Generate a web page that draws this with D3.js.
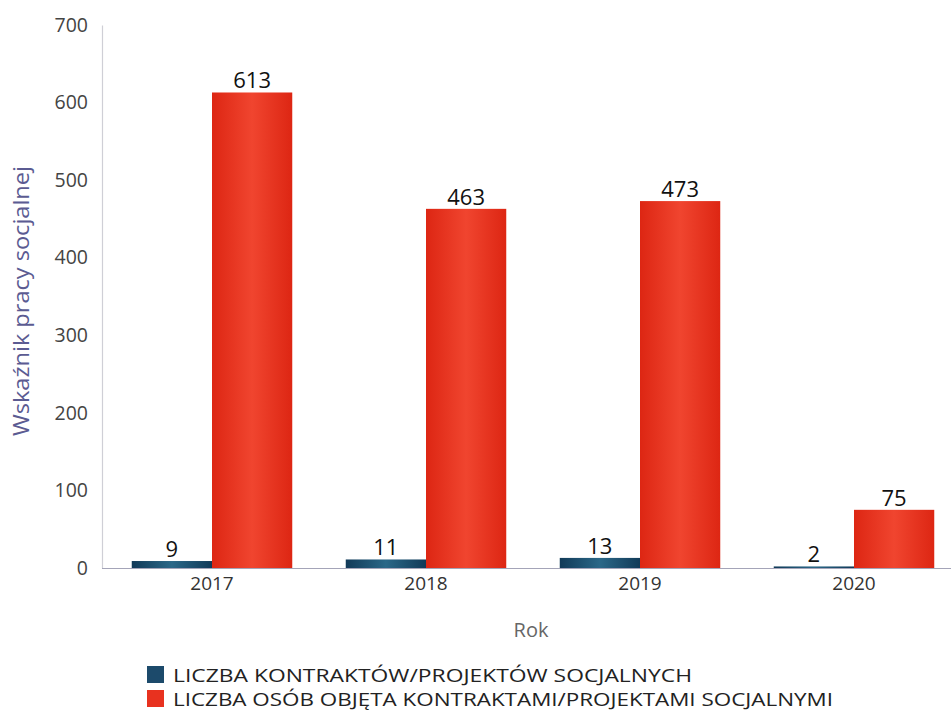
<!DOCTYPE html>
<html><head><meta charset="utf-8">
<script src="https://cdn.jsdelivr.net/npm/d3@7"></script>
<style>body{margin:0;background:#fff;font-family:"Open Sans",sans-serif;}</style>
</head><body>
<svg id="c" width="951" height="713"></svg>
<script>
const categories = ["2017","2018","2019","2020"];
const seriesNames = ["LICZBA KONTRAKTÓW/PROJEKTÓW SOCJALNYCH","LICZBA OSÓB OBJĘTA KONTRAKTAMI/PROJEKTAMI SOCJALNYMI"];
const contracts = [9, 11, 13, 2];
const persons = [613, 463, 473, 75];
const yTicks = [0,100,200,300,400,500,600,700];

(function(){
const svg = d3.select("#c");
const mLeft = 102, mRight = 961, mTop = 25, mBottom = 568;
const x0 = d3.scaleBand().domain(categories).range([mLeft + 3, mRight]).paddingInner(0.25).paddingOuter(0.125);
const x1 = d3.scaleBand().domain([0,1]).range([0, x0.bandwidth()]);
const y = d3.scaleLinear().domain([0,700]).range([mBottom, mTop]);

const defs = svg.append("defs");
function grad(id, edge, mid){
  const g = defs.append("linearGradient").attr("id", id).attr("x1","0%").attr("x2","100%");
  g.append("stop").attr("offset","0%").attr("stop-color", edge);
  g.append("stop").attr("offset","50%").attr("stop-color", mid);
  g.append("stop").attr("offset","100%").attr("stop-color", edge);
}
grad("gBlue", "#113a58", "#2b6888");
grad("gRed", "#dd2613", "#f0452f");
const fills = ["url(#gBlue)", "url(#gRed)"];
const legendColors = ["#1c4a6b", "#e8321f"];

const ya = svg.append("g").attr("transform", `translate(${mLeft},0)`)
  .call(d3.axisLeft(y).tickValues(yTicks).tickSize(0).tickPadding(14));
ya.select(".domain").attr("stroke", "#cfcfd6").attr("stroke-width", 1.2);
ya.selectAll("text").attr("font-size", 19.5).attr("fill", "#444").attr("font-family", "Open Sans");

const xa = svg.append("g").attr("transform", `translate(0,${mBottom})`)
  .call(d3.axisBottom(x0).tickSize(0).tickPadding(9));
xa.select(".domain").remove();
svg.append("line").attr("x1", mLeft).attr("x2", 951).attr("y1", mBottom+0.5).attr("y2", mBottom+0.5)
  .attr("stroke", "#a4a4b8").attr("stroke-width", 1.2);
xa.selectAll("text").attr("font-size", 19).attr("fill", "#333").attr("font-family", "Open Sans");

const data = categories.map((c,i)=>({cat:c, vals:[contracts[i], persons[i]]}));
const groups = svg.selectAll("g.grp").data(data).join("g").attr("class","grp")
  .attr("transform", d=>`translate(${x0(d.cat)},0)`);
groups.selectAll("rect").data(d=>d.vals.map((v,k)=>({v,k}))).join("rect")
  .attr("x", d=>x1(d.k)).attr("width", x1.bandwidth())
  .attr("y", d=>y(d.v)).attr("height", d=>mBottom - y(d.v))
  .attr("fill", d=>fills[d.k]);
groups.selectAll("text.val").data(d=>d.vals.map((v,k)=>({v,k}))).join("text").attr("class","val")
  .attr("x", d=>x1(d.k)+x1.bandwidth()/2).attr("y", d=>y(d.v)-4)
  .attr("text-anchor","middle").attr("font-size", 22).attr("fill", "#111")
  .text(d=>d.v);

svg.append("text").attr("transform", "translate(29,301) rotate(-90)")
  .attr("text-anchor","middle").attr("font-size", 21).attr("fill", "#5b5b92")
  .attr("textLength", 270).attr("lengthAdjust", "spacingAndGlyphs").text("Wskaźnik pracy socjalnej");
svg.append("text").attr("x", 531).attr("y", 637).attr("text-anchor","middle")
  .attr("font-size", 20).attr("fill", "#666").text("Rok");

const lg = svg.append("g");
const lens = [519, 660];
seriesNames.forEach((n,i)=>{
  lg.append("rect").attr("x",147).attr("y",666+i*24).attr("width",17).attr("height",17).attr("fill",legendColors[i]);
  lg.append("text").attr("x",173).attr("y",682+i*24).attr("font-size",19).attr("fill","#222")
    .attr("textLength", lens[i]).attr("lengthAdjust", "spacingAndGlyphs")
    .attr("font-family","Open Sans").text(n);
});
})();
</script>
</body></html>
